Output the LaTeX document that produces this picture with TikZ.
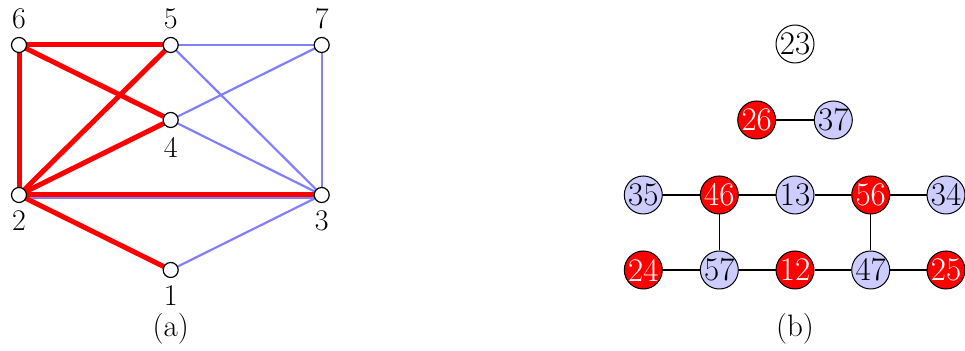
\documentclass[tikz,border=0pt]{standalone}
\definecolor{lblue}{RGB}{128,128,255}
\definecolor{pblue}{RGB}{204,204,255}
\tikzset{
  vert/.style={circle,draw=black,fill=white,line width=0.6pt,minimum size=7.5pt,inner sep=0pt},
  lab/.style={font=\fontsize{15}{17}\selectfont,inner sep=0pt},
  redge/.style={red,line width=2.5pt},
  bedge/.style={lblue,line width=1.1pt},
  cnode/.style={circle,draw=black,line width=0.5pt,minimum size=19pt,inner sep=0pt,font=\fontsize{16.5}{18}\selectfont},
  rnode/.style={cnode,fill=red,text=white},
  bnode/.style={cnode,fill=pblue,text=black},
  wnode/.style={cnode,fill=white,text=black},
  bline/.style={black,line width=0.6pt},
  captxt/.style={font=\fontsize{15.5}{17}\selectfont,inner sep=0pt}
}
\begin{document}
\begin{tikzpicture}[x=0.5pt,y=-0.5pt]
\useasboundingbox (0,0) rectangle (965,351);
% (a)
\coordinate (c6) at (19,45);
\coordinate (c5) at (170.7,45);
\coordinate (c7) at (321.7,45);
\coordinate (c4) at (170.7,120);
\coordinate (c2) at (19,195);
\coordinate (c3) at (321.7,195);
\coordinate (c1) at (170.7,270);
\draw[bedge] (c5) -- (c7);
\draw[bedge] (c5) -- (c3);
\draw[bedge] (c4) -- (c7);
\draw[bedge] (c4) -- (c3);
\draw[bedge] (c7) -- (c3);
\draw[bedge] (c1) -- (c3);
\draw[bedge,line width=1.6pt,transform canvas={yshift=-1.4pt}] (c2) -- (c3);
\draw[redge] (c6) -- (c5);
\draw[redge] (c6) -- (c2);
\draw[redge] (c6) -- (c4);
\draw[redge] (c2) -- (c5);
\draw[redge] (c2) -- (c4);
\draw[redge] (c2) -- (c3);
\draw[redge] (c2) -- (c1);
\node[vert] (n6) at (c6) {};
\node[vert] (n5) at (c5) {};
\node[vert] (n7) at (c7) {};
\node[vert] (n4) at (c4) {};
\node[vert] (n2) at (c2) {};
\node[vert] (n3) at (c3) {};
\node[vert] (n1) at (c1) {};
\node[lab] (l6) at (19,19) {6};
\node[lab] (l5) at (170.7,19) {5};
\node[lab] (l7) at (321.7,19) {7};
\node[lab] (l4) at (170.7,147) {4};
\node[lab] (l2) at (19,221) {2};
\node[lab] (l3) at (321.7,221) {3};
\node[lab] (l1) at (170.7,296) {1};
\node[captxt] (ca) at (170.7,329) {(a)};
% (b)
\node[wnode] (b23) at (795,44) {23};
\node[rnode] (b26) at (756.7,120) {26};
\node[bnode] (b37) at (833.3,120) {37};
\node[bnode] (b35) at (643.3,195) {35};
\node[rnode] (b46) at (719.3,195) {46};
\node[bnode] (b13) at (795,195) {13};
\node[rnode] (b56) at (870.7,195) {56};
\node[bnode] (b34) at (946,195) {34};
\node[rnode] (b24) at (643.3,270) {24};
\node[bnode] (b57) at (719.3,270) {57};
\node[rnode] (b12) at (795,270) {12};
\node[bnode] (b47) at (870.7,270) {47};
\node[rnode] (b25) at (946,270) {25};
\draw[bline] (b26) -- (b37);
\draw[bline] (b35) -- (b46);
\draw[bline] (b46) -- (b13);
\draw[bline] (b13) -- (b56);
\draw[bline] (b56) -- (b34);
\draw[bline] (b46) -- (b57);
\draw[bline] (b56) -- (b47);
\draw[bline] (b24) -- (b57);
\draw[bline] (b57) -- (b12);
\draw[bline] (b12) -- (b47);
\draw[bline] (b47) -- (b25);
\node[captxt] (cb) at (795,329) {(b)};
\end{tikzpicture}
\end{document}
